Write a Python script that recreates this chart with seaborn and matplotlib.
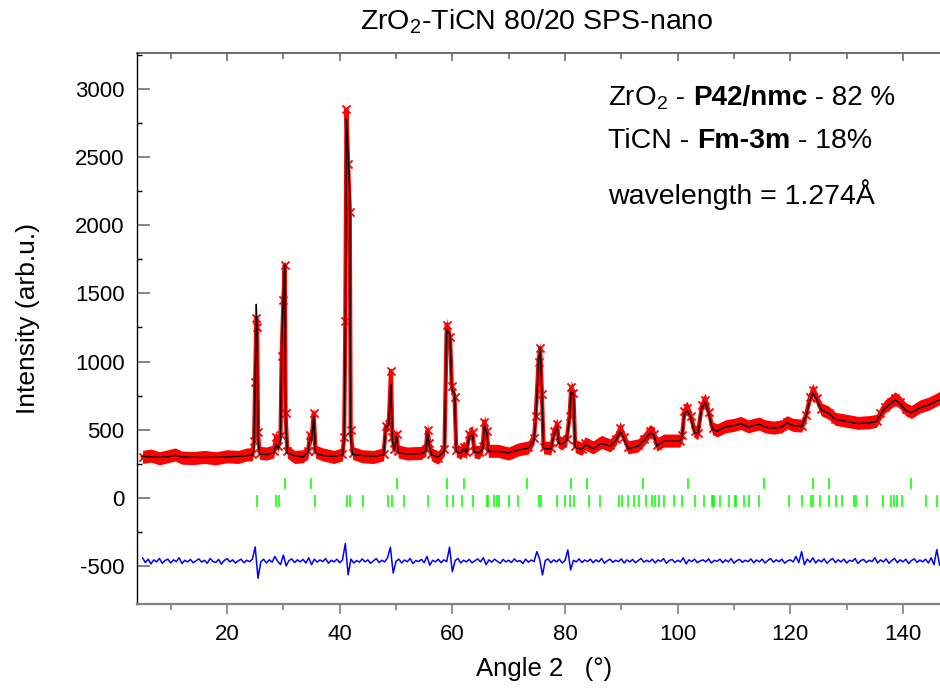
import numpy as np
import pandas as pd
import matplotlib
matplotlib.use("Agg")
import matplotlib.pyplot as plt
import seaborn as sns

# ---------------- data ----------------
two_theta = [5.0, 6.5, 8.0, 9.5, 10.8, 12.0, 14.0, 16.0, 18.0, 20.0, 22.0, 23.5, 24.5,
             24.8, 25.0, 25.2, 25.35, 25.5, 25.8, 27.0, 28.3, 28.7, 29.1, 29.5, 29.7,
             30.0, 30.25, 30.4, 30.7, 32.0, 33.5, 34.4, 34.7, 35.0, 35.4, 35.7, 37.0,
             39.0, 40.5, 40.8, 41.0, 41.2, 41.5, 41.8, 41.95, 42.3, 44.0, 46.0, 47.8,
             48.2, 48.7, 49.1, 49.35, 49.7, 50.1, 50.4, 52.0, 54.5, 55.3, 55.6, 55.9,
             56.3, 57.5, 58.6, 59.0, 59.6, 59.9, 60.4, 60.7, 61.5, 62.0, 62.5, 63.0,
             63.6, 63.9, 64.8, 65.4, 65.7, 66.1, 66.4, 68.1, 70.0, 71.7, 73.5, 74.5,
             74.8, 75.3, 75.6, 75.9, 76.2, 77.5, 78.1, 78.6, 78.9, 79.5, 80.3, 80.8,
             81.1, 81.5, 81.8, 83.0, 83.6, 85.0, 86.5, 88.0, 89.0, 89.8, 90.4, 91.2,
             93.0, 94.0, 95.1, 95.8, 96.3, 97.5, 100.4, 100.8, 101.2, 101.7, 102.3,
             103.0, 103.6, 104.3, 104.9, 105.5, 106.2, 107.0, 108.5, 110.0, 111.2,
             112.5, 114.5, 115.5, 117.0, 118.5, 119.4, 120.5, 122.0, 122.8, 123.5,
             124.0, 124.7, 125.5, 126.8, 128.0, 130.0, 132.0, 134.0, 135.3, 136.0,
             136.8, 137.8, 138.6, 139.5, 140.5, 141.5, 143.0, 144.5, 145.5, 146.6]

y_calc = [305, 300, 298, 300, 312, 300, 298, 296, 298, 300, 305, 310, 312,
          360, 900, 1420, 1200, 420, 320, 318, 330, 390, 360, 420, 1100,
          1500, 1710, 600, 330, 310, 300, 330, 440, 420, 600, 330, 310,
          305, 315, 420, 1200, 2780, 2500, 2230, 450, 320, 310, 305, 315,
          520, 530, 830, 420, 350, 450, 330, 320, 325, 340, 480, 380,
          315, 300, 340, 1230, 1200, 800, 760, 340, 325, 360, 330, 450,
          460, 335, 330, 360, 530, 480, 340, 340, 330, 350, 365, 420,
          570, 1000, 1100, 770, 360, 360, 470, 520, 400, 395, 420, 580,
          780, 760, 370, 355, 390, 360, 400, 380, 420, 486, 440, 360,
          380, 420, 475, 460, 380, 415, 415, 450, 620, 640, 590,
          480, 470, 660, 700, 620, 500, 490, 520, 530, 545,
          520, 540, 520, 510, 520, 550, 530, 525, 600, 720,
          770, 720, 645, 620, 575, 560, 545, 550, 560, 610,
          660, 690, 720, 690, 640, 625, 660, 680, 700, 720]

y_obs = [300, 310, 290, 305, 318, 295, 292, 300, 290, 305, 300, 318, 320,
         420, 850, 1320, 1250, 480, 330, 325, 340, 450, 380, 460, 1040,
         1450, 1710, 620, 340, 300, 305, 340, 460, 430, 620, 340, 318,
         300, 320, 450, 1300, 2850, 2450, 2100, 500, 330, 305, 300, 320,
         530, 540, 930, 450, 360, 470, 340, 325, 330, 360, 500, 400,
         320, 295, 360, 1270, 1180, 820, 740, 350, 330, 370, 335, 470,
         480, 340, 335, 380, 560, 490, 345, 345, 325, 355, 370, 440,
         600, 1000, 1100, 760, 370, 365, 490, 540, 410, 400, 430, 600,
         810, 770, 380, 360, 400, 370, 410, 385, 430, 510, 450, 370,
         385, 430, 490, 470, 390, 420, 420, 460, 640, 660, 600,
         490, 475, 680, 720, 630, 510, 495, 525, 535, 550,
         525, 545, 525, 515, 525, 555, 535, 530, 610, 740,
         790, 730, 650, 625, 580, 565, 550, 555, 565, 620,
         670, 700, 730, 700, 650, 630, 670, 690, 710, 735]

# difference curve, sampled every 0.5 degree starting at 5.0
diff_start = 5.0
diff_step = 0.5
y_diff = [
    -440, -475, -450, -485, -455, -470, -445, -480, -460, -450, -478, -455, -468, -440, -482, -458, -470, -452, -476, -462,
    -448, -472, -458, -480, -445, -466, -474, -452, -486, -460, -446, -470, -455, -478, -462, -450, -476, -458, -468, -450,
    -360, -590, -470, -450, -478, -455, -472, -430, -466, -490, -420, -500, -460, -448, -475, -455, -470, -452, -478, -440,
    -490, -450, -472, -455, -468, -445, -480, -458, -470, -450, -476, -455, -335, -565, -450, -478, -460, -472, -448, -470,
    -455, -480, -462, -446, -475, -458, -470, -440, -362, -552, -465, -450, -478, -456, -470, -445, -482, -460, -468, -452,
    -475, -430, -495, -458, -470, -450, -476, -455, -468, -362, -542, -460, -445, -478, -458, -470, -452, -476, -462, -448,
    -470, -440, -490, -455, -472, -450, -466, -480, -452, -470, -458, -475, -448, -468, -460, -482, -450, -472, -456, -468,
    -395, -450, -566, -460, -448, -476, -455, -470, -450, -478, -460, -382, -530, -458, -470, -448, -475, -456, -468, -450,
    -476, -455, -470, -445, -480, -462, -450, -474, -458, -468, -448, -478, -455, -470, -452, -476, -460, -445, -472, -458,
    -470, -450, -478, -456, -466, -446, -480, -460, -452, -474, -458, -470, -440, -485, -455, -468, -450, -476, -462, -455,
    -470, -448, -478, -458, -466, -450, -476, -455, -470, -446, -480, -460, -452, -474, -458, -468, -448, -476, -456, -470,
    -450, -478, -460, -446, -472, -455, -468, -450, -480, -462, -455, -470, -430, -475, -395, -490, -450, -472, -440, -478,
    -455, -470, -448, -480, -460, -445, -475, -455, -470, -450, -478, -458, -466, -445, -482, -460, -452, -474, -458, -468,
    -440, -478, -455, -470, -448, -480, -460, -445, -476, -455, -470, -450, -482, -460, -448, -474, -456, -470, -450, -478,
    -440, -490, -380, -495]

# Bragg reflection positions
ticn_ticks = [30.3, 34.9, 50.2, 59.1, 62.1, 73.3, 81.0, 83.9, 93.9, 101.8, 115.3,
              124.0, 126.9, 141.5]
zro2_ticks = [25.3, 28.7, 29.2, 35.6, 41.3, 41.9, 44.2, 48.5, 49.2, 51.5, 55.7,
              59.1, 60.1, 61.8, 63.7, 66.1, 66.4, 67.4, 68.0, 68.3, 70.1, 71.7,
              75.3, 75.7, 78.5, 80.0, 80.9, 81.6, 84.2, 86.2, 89.5, 90.1, 91.2,
              92.2, 93.1, 94.4, 95.5, 95.9, 96.7, 97.5, 99.4, 100.7, 103.0, 104.7,
              106.1, 106.3, 106.5, 107.5, 109.1, 110.1, 110.4, 111.7, 112.7, 114.4,
              119.7, 122.0, 123.6, 124.0, 125.3, 126.9, 128.1, 129.2, 131.3, 131.6,
              133.6, 136.5, 137.9, 138.4, 138.9, 139.9, 144.1, 146.1]

x_major = [20, 40, 60, 80, 100, 120, 140]
x_minor = [10, 30, 50, 70, 90, 110, 130]
y_major = [-500, 0, 500, 1000, 1500, 2000, 2500, 3000]
y_minor = [-250, 250, 750, 1250, 1750, 2250, 2750, 3250]

title_text = "ZrO$_2$-TiCN 80/20 SPS-nano"
x_label = "Angle 2   (°)"
y_label = "Intensity (arb.u.)"

# ---------------- style ----------------
sns.set_style("ticks")
plt.rcParams["font.family"] = ["Liberation Sans", "DejaVu Sans"]
plt.rcParams["mathtext.fontset"] = "custom"
plt.rcParams["mathtext.rm"] = "Liberation Sans"
plt.rcParams["mathtext.it"] = "Liberation Sans:italic"
plt.rcParams["mathtext.bf"] = "Liberation Sans:bold"
plt.rcParams["axes.unicode_minus"] = False
plt.rcParams["text.color"] = "black"
plt.rcParams["axes.labelcolor"] = "black"
plt.rcParams["xtick.labelcolor"] = "black"
plt.rcParams["ytick.labelcolor"] = "black"

W, H = 940, 693
fig = plt.figure(figsize=(W / 100, H / 100), dpi=100)
ax = fig.add_axes([137 / W, 1 - 604 / H, (W - 137) / W, (604 - 53) / H])

df = pd.DataFrame({"angle": two_theta, "calc": y_calc, "obs": y_obs})
ddf = pd.DataFrame({"angle": diff_start + diff_step * np.arange(len(y_diff)),
                    "diff": y_diff})

# observed: scatter band of red x markers (band half-width is a drawing style)
band = 48
ax.fill_between(df["angle"], df["obs"] - band, df["obs"] + band,
                color="#ff0000", lw=0, zorder=2)
sns.lineplot(data=df, x="angle", y="obs", ax=ax, color="#ff0000", lw=3.0,
             estimator=None, sort=False, solid_joinstyle="round",
             solid_capstyle="round", zorder=2)
sns.scatterplot(data=df, x="angle", y="obs", ax=ax, marker="x", color="#ff0000",
                s=34, linewidth=1.3, zorder=3)
# calculated
sns.lineplot(data=df, x="angle", y="calc", ax=ax, color="black", lw=1.0,
             estimator=None, sort=False, zorder=4)
# difference
sns.lineplot(data=ddf, x="angle", y="diff", ax=ax, color="#0000ff", lw=1.1,
             estimator=None, sort=False, zorder=4)
# Bragg ticks
ax.vlines(ticn_ticks, 65, 144, color="#00ff00", lw=1.1, zorder=3)
ax.vlines(zro2_ticks, -69, 21, color="#00ff00", lw=1.1, zorder=3)

# ---------------- axes ----------------
ax.set_xlim(4.02, 146.57)
ax.set_ylim(-779, 3264)
ax.set_xticks(x_major)
ax.set_xticks(x_minor, minor=True)
ax.set_yticks(y_major)
ax.set_yticks(y_minor, minor=True)
ax.set_yticklabels([str(v) for v in y_major])

ax.tick_params(axis="x", which="major", direction="out", length=7.5, width=1.2,
               color="#808080", labelsize=16, pad=7, top=False)
ax.tick_params(axis="x", which="minor", direction="out", length=4, width=1.2,
               color="#808080", top=False)
ax.tick_params(axis="y", which="major", direction="in", length=9.5, width=1.2,
               color="#707070", labelsize=16, pad=9, right=False)
ax.tick_params(axis="y", which="minor", direction="in", length=3.6, width=1.0,
               color="#000000", right=False)

ax.spines["right"].set_visible(False)
ax.spines["top"].set_visible(False)
ax.spines["left"].set_color("#000000")
ax.spines["left"].set_linewidth(1.0)
ax.spines["bottom"].set_color("#808080")
ax.spines["bottom"].set_linewidth(1.6)

top = ax.secondary_xaxis("top")
top.set_xticks(x_major)
top.set_xticks(x_minor, minor=True)
top.tick_params(axis="x", which="major", direction="in", length=6, width=1.1,
                color="#606060", labeltop=False)
top.tick_params(axis="x", which="minor", direction="in", length=4, width=1.1,
                color="#606060")
top.spines["top"].set_color("#606060")
top.spines["top"].set_linewidth(1.3)

ax.set_xlabel(x_label, fontsize=18.5, color="black")
ax.set_ylabel(y_label, fontsize=19, color="black")
ax.xaxis.set_label_coords((544 - 137) / (W - 137), (604 - 657) / (604 - 53))
ax.yaxis.set_label_coords((40 - 137) / (W - 137), (604 - 318) / (604 - 53))

fig.text(537 / W, 1 - 22 / H, title_text, ha="center", va="center",
         fontsize=20.5, color="black")

# ---------------- annotation block ----------------
def write_line(pieces, x0, y0, size=20):
    prev = None
    for text, weight in pieces:
        if prev is None:
            prev = ax.text(x0, y0, text, transform=ax.transAxes, fontsize=size,
                           fontweight=weight, ha="left", va="baseline",
                           color="black")
        else:
            prev = ax.annotate(text, xy=(1, y0), xycoords=(prev, "axes fraction"),
                               fontsize=size, fontweight=weight, ha="left",
                               va="baseline", color="black")

xa = (608 - 137) / (W - 137)
write_line([("ZrO$_2$", "normal"), (" - ", "normal"), ("P42/nmc", "bold"),
            (" - 82 %", "normal")], xa, (604 - 105) / (604 - 53))
write_line([("TiCN - ", "normal"), ("Fm-3m", "bold"), (" - 18%", "normal")],
           xa, (604 - 148) / (604 - 53), size=20.5)
write_line([("wavelength = 1.274Å", "normal")], xa, (604 - 204) / (604 - 53),
           size=20.5)

fig.savefig("out.png", dpi=100)
